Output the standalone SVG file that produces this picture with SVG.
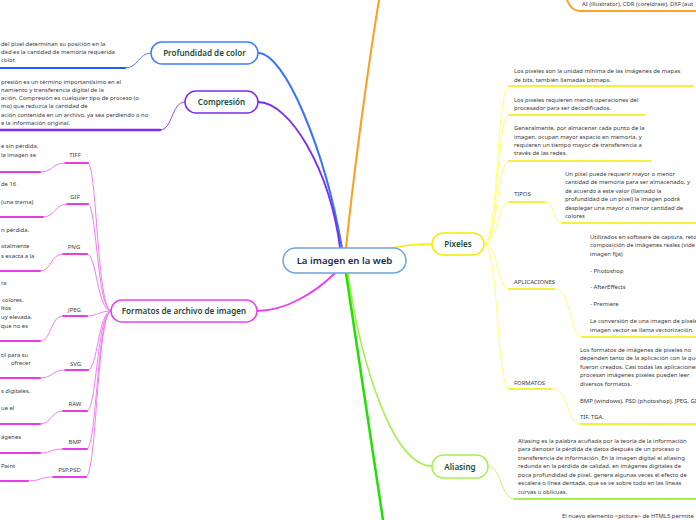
<svg xmlns="http://www.w3.org/2000/svg" width="696" height="520" viewBox="0 0 696 520">
<style>
.t{font-family:"Noto Sans","Liberation Sans",sans-serif;font-size:5.9px;fill:#3a3a3a}
.lb{font-family:"Noto Sans","Liberation Sans",sans-serif;font-size:6px;fill:#444;text-anchor:middle}
.nl{font-family:"Noto Sans","Liberation Sans",sans-serif;font-size:8.1px;font-weight:600;fill:#1d4a38;text-anchor:middle}
.cl{font-family:"Noto Sans","Liberation Sans",sans-serif;font-size:9.6px;font-weight:600;fill:#1a2b4c;text-anchor:middle}
.c{fill:none;stroke-linecap:round}
.mg{stroke:#f07ef0;stroke-width:1}
.mu{stroke:#e83ce8;stroke-width:2}
.yc{stroke:#ffff70;stroke-width:1}
.yu{stroke:#f2ec00;stroke-width:1.6}
</style>
<rect width="696" height="520" fill="#ffffff"/>
<g id="connectors">
<path class="c" d="M346,248 C354,170 369,60 379,0" stroke="#ff9d1c" stroke-width="2"/>
<path class="c" d="M567,0 C570,8 574,11 580,11 L696,11" stroke="#ffa326" stroke-width="2"/>
<path class="c" d="M258,53 C285,53 325,150 342,248" stroke="#3574ff" stroke-width="2"/>
<path class="c" d="M258,102 C290,102 330,170 340,248" stroke="#7a2cf0" stroke-width="1.8"/>
<path class="c" d="M335,273 C315,293 285,311 257,311" stroke="#ea3ff0" stroke-width="1.8"/>
<path class="c" d="M348,273 C360,360 392,466 432,466" stroke="#a8ee50" stroke-width="1.6"/>
<path class="c" d="M346,273 L383,520" stroke="#22e000" stroke-width="2.5"/>
<path class="c" d="M392,248 C410,244 420,244 432,244" stroke="#f5f000" stroke-width="1.5"/>
<path class="c" d="M151,53 C138,53 139,68 125,68" stroke="#4a80ff" stroke-width="1"/>
<path class="c" d="M125,68 L0,68" stroke="#2a58ff" stroke-width="2"/>
<path class="c" d="M185,102 C171,102 173,130 160,130" stroke="#8a4af5" stroke-width="1"/>
<path class="c" d="M160,130 L0,130" stroke="#7a2cf0" stroke-width="2.5"/>
<path class="c mg" d="M111,311 C97,311 97,163 88,163"/>
<path class="c mg" d="M111,311 C97,311 97,204 88,204"/>
<path class="c mg" d="M111,311 C97,311 97,254 87,254"/>
<path class="c mg" d="M111,311 C99,311 98,316 87,316"/>
<path class="c mg" d="M111,311 C98,311 98,370 88,370"/>
<path class="c mg" d="M111,311 C97,311 97,411 87,411"/>
<path class="c mg" d="M111,311 C97,311 97,449 87,449"/>
<path class="c mg" d="M111,311 C97,311 97,477 86,477"/>
<path class="c mu" d="M65,163 L88,163"/><path class="c mg" d="M65,163 C52,163 53,172 40,172"/><path class="c mu" d="M40,172 L0,172"/>
<path class="c mu" d="M67,204 L88,204"/><path class="c mg" d="M67,204 C55,204 55,217 43,217"/><path class="c mu" d="M43,217 L0,217"/>
<path class="c mu" d="M63,254 L87,254"/><path class="c mg" d="M63,254 C50,254 52,271 40,271"/><path class="c mu" d="M40,271 L0,271"/>
<path class="c mu" d="M63,316 L87,316"/><path class="c mg" d="M63,316 C50,316 52,341 40,341"/><path class="c mu" d="M40,341 L0,341"/>
<path class="c mu" d="M65,370 L88,370"/><path class="c mg" d="M65,370 C52,370 53,378 40,378"/><path class="c mu" d="M40,378 L0,378"/>
<path class="c mu" d="M63,411 L87,411"/><path class="c mg" d="M63,411 C50,411 52,424 40,424"/><path class="c mu" d="M40,424 L0,424"/>
<path class="c mu" d="M63,449 L87,449"/><path class="c mg" d="M63,449 C50,449 52,453 40,453"/><path class="c mu" d="M40,453 L0,453"/>
<path class="c mu" d="M53,477 L86,477"/><path class="c mg" d="M53,477 C40,477 41,481 28,481"/><path class="c mu" d="M28,481 L0,481"/>
<path class="c yc" d="M484,244 C499,244 496,86 509,86"/>
<path class="c yc" d="M484,244 C499,244 496,115 509,115"/>
<path class="c yc" d="M484,244 C499,244 496,161 509,161"/>
<path class="c yc" d="M484,244 C499,244 496,202 509,202"/>
<path class="c yc" d="M484,244 C499,244 496,289 509,289"/>
<path class="c yc" d="M484,244 C499,244 496,389 509,389"/>
<path class="c yu" d="M509,86 L693,86"/>
<path class="c yu" d="M509,115 L645,115"/>
<path class="c yu" d="M509,161 L651,161"/>
<path class="c yu" d="M509,202 L545,202"/><path class="c yc" d="M545,202 C556,202 551,223 562,223"/><path class="c yu" d="M562,223 L696,223"/>
<path class="c yu" d="M509,289 L555,289"/><path class="c yc" d="M555,289 C572,289 569,337 582,337"/><path class="c yu" d="M582,337 L696,337"/>
<path class="c yu" d="M509,389 L552,389"/><path class="c yc" d="M552,389 C570,389 566,424 580,424"/><path class="c yu" d="M580,424 L696,424"/>
<path class="c" d="M488,466 C501,466 501,499 514,499" stroke="#c0f580" stroke-width="1"/>
<path class="c" d="M514,499 L696,499" stroke="#a8ee50" stroke-width="2"/>
</g>
<g id="central">
<rect x="283" y="248" width="123" height="25" rx="12.5" fill="#ffffff" stroke="#6aa6d8" stroke-width="1.5"/>
<text class="cl" x="344.5" y="264">La imagen en la web</text>
</g>
<g id="profundidad">
<rect x="151" y="42" width="107" height="22" rx="11" fill="#ffffff" stroke="#3f7cff" stroke-width="1.5"/>
<text class="nl" x="204.5" y="56">Profundidad de color</text>
<text class="t" x="1" y="46">del pixel determinan su posición en la</text>
<text class="t" x="1" y="54">dad es la cantidad de memoria requerida</text>
<text class="t" x="1" y="62">color.</text>
</g>
<g id="compresion">
<rect x="185" y="91" width="73" height="22" rx="11" fill="#ffffff" stroke="#7a2cf0" stroke-width="1.5"/>
<text class="nl" x="221.5" y="105">Compresión</text>
<text class="t" x="1" y="83.5">presión es un término importantísimo en el</text>
<text class="t" x="1" y="91.8">namiento y transferencia digital de la</text>
<text class="t" x="1" y="100.1">ación. Compresión es cualquier tipo de proceso (o</text>
<text class="t" x="1" y="108.4">mo) que reduzca la cantidad de</text>
<text class="t" x="1" y="116.7">ación contenida en un archivo, ya sea perdiendo o no</text>
<text class="t" x="1" y="125">e la información original.</text>
</g>
<g id="formatos">
<rect x="111" y="300" width="146" height="22" rx="11" fill="#ffffff" stroke="#ea3ff0" stroke-width="1.5"/>
<text class="nl" x="184" y="314">Formatos de archivo de imagen</text>
</g>
<g id="tiff"><text class="lb" x="75" y="156.5">TIFF</text><text class="t" x="1" y="148">e sin pérdida.</text><text class="t" x="1" y="157">la imagen se</text></g>
<g id="gif"><text class="lb" x="75" y="198.5">GIF</text><text class="t" x="1" y="185.5">de 16</text><text class="t" x="1" y="203.5">(una trama)</text></g>
<g id="png"><text class="lb" x="74" y="248.5">PNG</text><text class="t" x="1" y="231.5">n pérdida.</text><text class="t" x="1" y="248">otalmente</text><text class="t" x="1" y="257.5">s exacta a la</text></g>
<g id="jpeg"><text class="lb" x="74.5" y="311.5">JPEG</text><text class="t" x="1" y="285">ra</text><text class="t" x="2" y="301.5">colores.</text><text class="t" x="1" y="310.3">ltos</text><text class="t" x="1" y="319">uy elevada.</text><text class="t" x="1" y="327.7">que no es</text></g>
<g id="svg"><text class="lb" x="75.5" y="365.5">SVG</text><text class="t" x="1" y="356.5">til para su</text><text class="t" x="11" y="365">ofrecer</text></g>
<g id="raw"><text class="lb" x="75" y="405.5">RAW</text><text class="t" x="1" y="393">s digitales.</text><text class="t" x="1" y="410">ue el</text></g>
<g id="bmp"><text class="lb" x="75" y="443.5">BMP</text><text class="t" x="1" y="439">ágenes</text></g>
<g id="psd"><text class="lb" x="69.5" y="471.5">PSP,PSD</text><text class="t" x="1" y="467.5">Paint</text></g>
<g id="pixeles">
<rect x="432" y="233" width="52" height="22" rx="11" fill="#ffffff" stroke="#f2ec00" stroke-width="1.5"/>
<text class="nl" x="458" y="247">Pixeles</text>
</g>
<g id="px1"><text class="t" x="514" y="73">Los pixeles son la unidad mínima de las imágenes de mapas</text><text class="t" x="514" y="81.5">de bits, también llamadas bitmaps.</text></g>
<g id="px2"><text class="t" x="514" y="101.5">Los pixeles requieren menos operaciones del</text><text class="t" x="514" y="110.3">procesador para ser decodificados.</text></g>
<g id="px3"><text class="t" x="514" y="130">Generalmente, por almacenar cada punto de la</text><text class="t" x="514" y="138.5">imagen, ocupan mayor espacio en memoria, y</text><text class="t" x="514" y="147">requieren un tiempo mayor de transferencia a</text><text class="t" x="514" y="155.3">través de las redes.</text></g>
<g id="tipos"><text class="t" x="514" y="195.5">TIPOS</text></g>
<g id="tipos-t"><text class="t" x="565" y="175.5">Un pixel puede requerir mayor o menor</text><text class="t" x="565" y="184">cantidad de memoria para ser almacenado, y</text><text class="t" x="565" y="192.5">de acuerdo a este valor (llamado la</text><text class="t" x="565" y="201">profundidad de un pixel) la imagen podrá</text><text class="t" x="565" y="209.5">desplegar una mayor o menor cantidad de</text><text class="t" x="565" y="218">colores</text></g>
<g id="aplicaciones"><text class="t" x="514" y="284">APLICACIONES</text></g>
<g id="aplic-t"><text class="t" x="590" y="238.5">Utilizados en software de captura, reto</text><text class="t" x="590" y="247">composición de imágenes reales (vide</text><text class="t" x="590" y="255.5">imagen fija)</text><text class="t" x="590" y="272.5">- Photoshop</text><text class="t" x="590" y="289.3">- AfterEffects</text><text class="t" x="590" y="306.3">- Premiere</text><text class="t" x="590" y="323.2">La conversión de una imagen de píxele</text><text class="t" x="590" y="332">imagen vector se llama vectorización.</text></g>
<g id="formatos-px"><text class="t" x="514" y="384.5">FORMATOS</text></g>
<g id="formatos-t"><text class="t" x="580" y="351.5">Los formatos de imágenes de pixeles no</text><text class="t" x="580" y="360">dependen tanto de la aplicación con la que</text><text class="t" x="580" y="368.5">fueron creados. Casi todas las aplicaciones</text><text class="t" x="580" y="377">procesan imágenes pixeles pueden leer</text><text class="t" x="580" y="385.5">diversos formatos.</text><text class="t" x="580" y="402.5">BMP (windows), PSD (photoshop), JPEG, GI</text><text class="t" x="580" y="419.2">TIF, TGA.</text></g>
<g id="aliasing">
<rect x="432" y="455" width="56" height="23" rx="11.5" fill="#ffffff" stroke="#a8ee50" stroke-width="1.5"/>
<text class="nl" x="460" y="469.5">Aliasing</text>
</g>
<g id="aliasing-t"><text class="t" x="518" y="443">Aliasing es la palabra acuñada por la teoría de la información</text><text class="t" x="518" y="451.3">para denotar la pérdida de datos después de un proceso o</text><text class="t" x="518" y="459.8">transferencia de información. En la imagen digital el aliasing</text><text class="t" x="518" y="468.3">redunda en la pérdida de calidad, en imágenes digitales de</text><text class="t" x="518" y="476.7">poca profundidad de pixel, genera algunas veces el efecto de</text><text class="t" x="518" y="485.2">escalera o línea dentada, que se ve sobre todo en las líneas</text><text class="t" x="518" y="493.5">curvas u oblicuas.</text></g>
<g id="orange-t"><text class="t" x="582" y="6.3">AI (illustrator), CDR (coreldraw), DXF (aut</text></g>
<g id="green-t"><text class="t" x="562" y="517.8">El nuevo elemento &lt;picture&gt; de HTML5 permite</text></g>
</svg>
